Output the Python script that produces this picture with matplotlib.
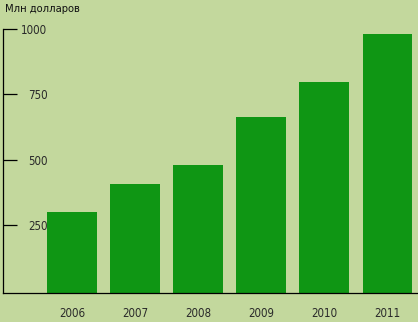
import numpy as np
import matplotlib
matplotlib.use('Agg')
from matplotlib import pyplot as plt

years = ["2006", "2007", "2008", "2009", "2010", "2011"]
revenue = [300, 407, 480, 665, 798, 982]
y_ticks = [250, 500, 750, 1000]

BG = "#c3d89d"
BAR = "#0f9614"
FONT = ["DejaVu Sans"]
Y_MIN = -10.5

fig = plt.figure(figsize=(4.18, 3.22), dpi=100, facecolor=BG)
ax = fig.add_axes([3 / 418, 28.7 / 322, 1 - 3 / 418, (293.3 - 29) / 322])
ax.set_facecolor(BG)

x = np.arange(len(years))
# bars sit on the axis line, their tops at the value
ax.bar(x, np.array(revenue) - Y_MIN, bottom=Y_MIN, width=0.79, color=BAR, zorder=2)

ax.set_xlim(-1.093, 5.483)
ax.set_ylim(Y_MIN, 1000)

for side in ["top", "right"]:
    ax.spines[side].set_visible(False)
for side in ["left", "bottom"]:
    ax.spines[side].set_linewidth(0.9)
    ax.spines[side].set_color("black")

ax.set_xticks(x)
ax.set_xticklabels(years, fontfamily=FONT, fontstretch="condensed", fontsize=8.3, color="#2a2a2a")
ax.tick_params(axis="x", length=0, pad=10)

ax.set_yticks(y_ticks)
ax.set_yticklabels([str(v) for v in y_ticks], fontfamily=FONT, fontstretch="condensed",
                   fontsize=8.3, color="#2a2a2a")
ax.tick_params(axis="y", direction="in", length=10, width=0.9, pad=-32)

fig.text(5 / 418, 1 - 9 / 322, "Млн долларов", family=FONT, fontstretch="condensed",
         fontsize=8, color="#111111", ha="left", va="center")

fig.savefig("out.png", dpi=100, facecolor=BG)
